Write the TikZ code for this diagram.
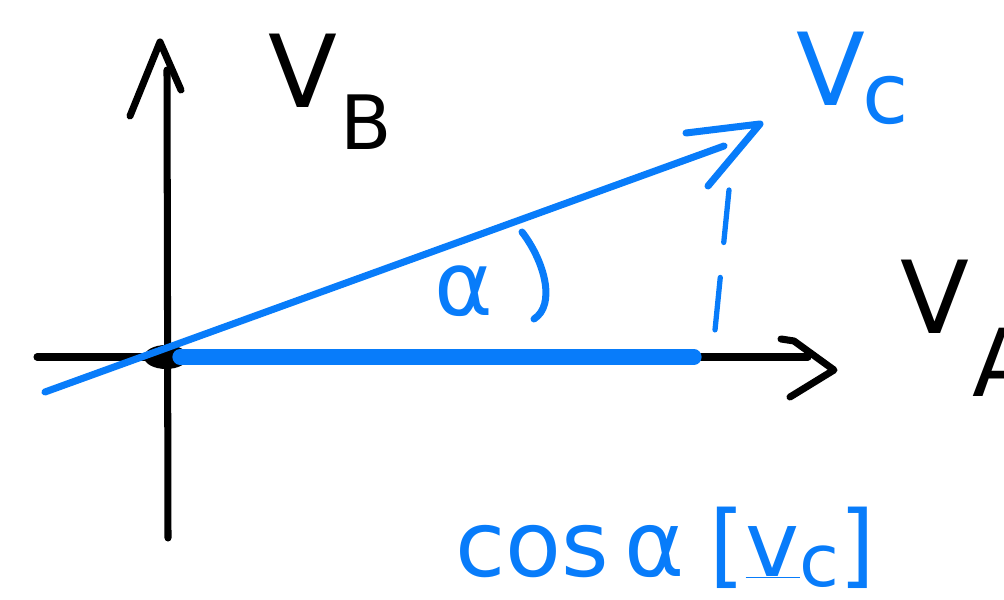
\documentclass[tikz,border=0pt]{standalone}
\usepackage{fontspec}
\setmainfont{DejaVu Sans}
\usepackage{tikz}
\usetikzlibrary{calc}

\definecolor{penblue}{RGB}{8,124,250}

\tikzset{
  axis/.style={line width=6pt, line cap=round, line join=round, black},
  vec/.style={line width=6pt, line cap=round, line join=round, penblue},
  proj/.style={line width=13pt, line cap=round, penblue},
  lbl/.style={inner sep=0pt, anchor=base west},
}

\begin{document}
\begin{tikzpicture}[x=0.03cm, y=-0.03cm]
\useasboundingbox (0,0) rectangle (1004,600);
% axes
\coordinate (O) at (166,357);
\coordinate (ybot) at (168,538);
\coordinate (ytop) at (167,70);
\coordinate (xleft) at (37,357);
\coordinate (xright) at (808,357);
\fill[black] (O) ellipse [x radius=22, y radius=12];
\draw[axis] (ybot) -- (ytop);
\draw[axis] (xleft) -- (xright);
\coordinate (yA) at (160,42);
\draw[axis] (130,116) -- (yA) -- (181,90);
\coordinate (xA) at (834,370);
\draw[axis] (781,339) -- (794,341) -- (xA) -- (790,397);

% blue vector and its projection
\coordinate (vstart) at (45,392);
\coordinate (vend) at (724,146);
\draw[vec] (vstart) -- (vend);
\coordinate (vtip) at (760,124);
\draw[vec] (686,133) -- (vtip) -- (708,186);
\coordinate (pstart) at (180,357);
\coordinate (pend) at (694,357);
\draw[proj] (pstart) -- (pend);
\coordinate (dtop) at (729,190);
\coordinate (dbot) at (713,350);
\draw[vec, line width=4.5pt, dash pattern=on 45pt off 30pt] (dtop) -- (dbot);

% angle mark
\coordinate (arcA) at (522,232);
\coordinate (arcB) at (534,319);
\draw[vec] (arcA) .. controls (545,262) and (556,305) .. (arcB);

% labels
\node[lbl, font=\fontsize{86}{86}\selectfont] (VB) at (268,108) {V};
\node[lbl, font=\fontsize{64}{64}\selectfont] (B) at (340,150) {B};
\node[lbl, font=\fontsize{86}{86}\selectfont, text=penblue] (VC) at (796,106) {V};
\node[lbl, font=\fontsize{72}{72}\selectfont, text=penblue] (C) at (862,124) {c};
\node[lbl, font=\fontsize{86}{86}\selectfont] (VA) at (900,334) {V};
\node[lbl, font=\fontsize{80}{80}\selectfont] (A) at (972,396) {A};
\node[lbl, font=\fontsize{76}{76}\selectfont, text=penblue] (alpha) at (434,316) {α};
\node[lbl, font=\fontsize{78}{78}\selectfont, text=penblue] (cosv) at (455,576)
  {cos\,α\;[\underline{v}\raisebox{-0.12em}{\fontsize{62}{62}\selectfont c}]};
\end{tikzpicture}
\end{document}
